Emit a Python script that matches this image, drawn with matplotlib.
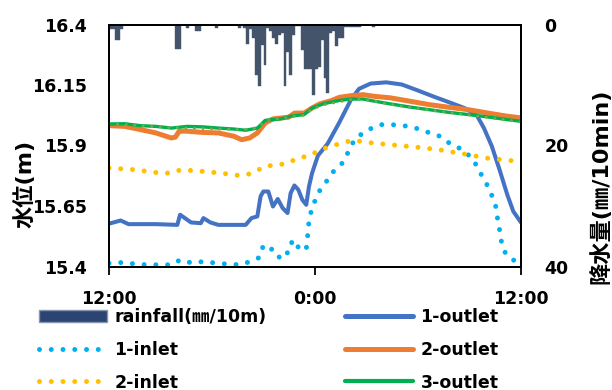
import matplotlib
matplotlib.use('Agg')
import matplotlib.pyplot as plt
from matplotlib.patches import Patch
from matplotlib.lines import Line2D

FONT = ['DejaVu Sans', 'Noto Sans CJK JP']
plt.rcParams['font.family'] = FONT
plt.rcParams['font.weight'] = 'bold'

# ---------------- data ----------------
time_ticks = [0, 12, 24]
time_labels = ['12:00', '0:00', '12:00']
level_ticks = [15.4, 15.65, 15.9, 16.15, 16.4]
level_labels = ['15.4', '15.65', '15.9', '16.15', '16.4']
rain_ticks = [0, 20, 40]

# rainfall: 10-minute slot index (from 12:00) and mm per 10 min
rain_slot = [0, 1, 2, 3, 4, 23, 24, 27, 30, 31, 37, 45, 47, 48,
             49, 50, 51, 52, 53, 54, 55, 56, 57, 58, 59, 60, 61, 62, 63, 64,
             65, 66, 67, 68, 69, 70, 71, 72, 73, 74, 75, 76, 77, 78, 79, 80,
             81, 82, 83, 84, 85, 86, 87, 92]
rain_mm = [0.8, 0.8, 2.6, 2.6, 0.8, 4.1, 4.1, 0.5, 1.0, 1.0, 0.5, 0.6, 0.5, 3.2,
           0.7, 2.2, 8.3, 10.2, 3.4, 6.7, 0.5, 1.0, 2.2, 3.2, 1.7, 1.4, 10.2, 4.5, 8.3, 1.7,
           0.3, 0.3, 4.2, 7.3, 7.3, 7.3, 11.6, 7.3, 7.0, 2.6, 8.8, 11.3, 1.4, 1.1, 3.6, 2.2,
           2.2, 0.4, 0.4, 0.4, 0.4, 0.4, 0.4, 0.4]

out1_t = [0, 0.68, 1.14, 2.73, 3.98, 4.14, 4.78, 5.35, 5.5, 5.91, 6.37, 7.96, 8.3,
          8.64, 8.83, 8.99, 9.28, 9.55, 9.83, 10.12, 10.4, 10.58, 10.8, 11.03, 11.26,
          11.49, 11.65, 11.83, 12.17, 12.74, 13.4, 14.1, 14.56, 15.24, 16.15, 17.06,
          17.97, 18.88, 19.8, 20.7, 21.4, 21.84, 22.3, 22.75, 23.2, 23.55, 24.0]
out1_v = [15.577, 15.590, 15.575, 15.575, 15.572, 15.614, 15.582, 15.579, 15.600,
          15.582, 15.572, 15.572, 15.600, 15.607, 15.690, 15.710, 15.710, 15.648,
          15.679, 15.641, 15.621, 15.703, 15.735, 15.717, 15.676, 15.655, 15.731,
          15.786, 15.858, 15.908, 15.993, 16.090, 16.134, 16.156, 16.161, 16.152,
          16.128, 16.103, 16.079, 16.055, 16.028, 15.972, 15.897, 15.800, 15.697,
          15.628, 15.582]

in1_t = [0, 0.18, 0.86, 1.55, 2.23, 2.91, 3.64, 4.16, 4.85, 5.53, 6.21, 6.89, 7.62,
         8.26, 8.76, 8.99, 9.39, 9.78, 10.35, 10.46, 10.81, 11.10, 11.49, 11.56,
         11.60, 11.72, 11.94, 12.24, 12.63, 13.08, 13.69, 13.99, 14.33, 15.01, 15.81,
         16.49, 17.17, 17.86, 18.61, 19.29, 19.90, 20.59, 21.20, 21.61, 21.95, 22.25,
         22.52, 22.63, 22.75, 22.86, 23.09, 23.66, 24.0]
in1_v = [15.414, 15.414, 15.417, 15.410, 15.407, 15.407, 15.407, 15.428, 15.414,
         15.421, 15.414, 15.410, 15.407, 15.421, 15.437, 15.487, 15.480, 15.439,
         15.439, 15.487, 15.510, 15.469, 15.472, 15.513, 15.561, 15.614, 15.662,
         15.710, 15.748, 15.793, 15.834, 15.883, 15.927, 15.963, 15.986, 15.986,
         15.982, 15.972, 15.954, 15.938, 15.906, 15.883, 15.844, 15.789, 15.748,
         15.703, 15.651, 15.600, 15.552, 15.503, 15.455, 15.421, 15.405]

in2_t = [0, 1.5, 3.0, 3.6, 4.2, 5.5, 6.5, 7.7, 8.4, 9.05, 10.35, 11.0, 11.7, 12.3,
         13.0, 13.6, 14.3, 15.0, 16.4, 17.8, 19.2, 20.0, 20.7, 22.0, 23.2, 24.0]
in2_v = [15.807, 15.800, 15.786, 15.786, 15.800, 15.793, 15.786, 15.775, 15.786,
         15.814, 15.825, 15.848, 15.858, 15.883, 15.897, 15.913, 15.921, 15.913,
         15.903, 15.894, 15.883, 15.873, 15.865, 15.848, 15.839, 15.834]

out2_t = [0, 0.91, 1.82, 2.73, 3.64, 3.87, 4.09, 4.55, 5.46, 6.37, 7.28, 7.73, 8.19,
          8.64, 9.10, 9.55, 10.46, 10.81, 11.37, 11.83, 12.28, 12.97, 13.42, 14.10,
          14.79, 15.47, 16.38, 17.52, 18.65, 19.79, 20.93, 22.07, 23.20, 24.0]
out2_v = [15.982, 15.979, 15.966, 15.952, 15.931, 15.935, 15.959, 15.959, 15.954,
          15.952, 15.938, 15.924, 15.931, 15.952, 15.993, 16.010, 16.017, 16.034,
          16.034, 16.055, 16.072, 16.086, 16.099, 16.106, 16.110, 16.103, 16.097,
          16.083, 16.069, 16.058, 16.048, 16.034, 16.021, 16.014]

out3_t = [0, 0.91, 1.82, 2.73, 3.64, 4.55, 5.46, 6.37, 7.28, 7.96, 8.64, 9.10, 10.01,
          10.58, 11.37, 11.83, 12.51, 13.42, 14.10, 14.79, 15.47, 16.38, 17.52, 18.65,
          19.79, 20.93, 22.07, 23.20, 24.0]
out3_v = [15.989, 15.990, 15.982, 15.979, 15.972, 15.979, 15.977, 15.972, 15.968,
          15.963, 15.972, 16.004, 16.010, 16.021, 16.028, 16.055, 16.073, 16.086,
          16.092, 16.092, 16.083, 16.072, 16.059, 16.048, 16.037, 16.028, 16.018,
          16.007, 16.000]

in3_t = [0, 3.6, 7.9, 8.6, 9.1, 10.6, 11.4, 11.8, 12.5, 14.1, 14.8, 16.4, 18.6,
         20.9, 24.0]
in3_v = [15.990, 15.974, 15.965, 15.973, 16.001, 16.019, 16.025, 16.050, 16.068,
         16.090, 16.092, 16.070, 16.047, 16.027, 15.997]

# ---------------- figure ----------------
fig = plt.figure(figsize=(6.12, 3.9), dpi=100)
ax = fig.add_axes([109 / 612, 1 - 266.5 / 390, 412 / 612, 242 / 390])
ax2 = ax.twinx()
ax.set_zorder(ax2.get_zorder() + 1)
ax.patch.set_visible(False)

rain_h = [s / 6 for s in rain_slot]
ax2.bar(rain_h, rain_mm, width=1 / 6, align='edge', color='#44546A',
        edgecolor='#44546A', linewidth=0.3)
ax2.set_ylim(40, 0)
ax2.set_yticks(rain_ticks)
ax2.set_yticklabels([str(v) for v in rain_ticks])

dot = dict(dash_capstyle='round')
ax.plot(out1_t, out1_v, color='#4472C4', lw=2.9, solid_capstyle='round', solid_joinstyle='round')
ax.plot(in1_t, in1_v, color='#00B0F0', lw=3.6, linestyle=(0, (0.001, 2.35)), **dot)
ax.plot(in2_t, in2_v, color='#FFC000', lw=3.6, linestyle=(0, (0.001, 2.35)), **dot)
ax.plot(out2_t, out2_v, color='#ED7D31', lw=3.6, solid_capstyle='round', solid_joinstyle='round')
ax.plot(out3_t, out3_v, color='#00B050', lw=2.4, solid_capstyle='round', solid_joinstyle='round')
ax.plot(in3_t, in3_v, color='#70AD47', lw=2.2, linestyle=(0, (0.001, 2.8)), **dot)

ax.set_xlim(0, 24)
ax.set_ylim(15.4, 16.4)
ax.set_xticks(time_ticks)
ax.set_xticklabels(time_labels)
ax.set_yticks(level_ticks)
ax.set_yticklabels(level_labels)

ax.tick_params(axis='y', length=0, pad=16, labelsize=12.5)
ax2.tick_params(axis='y', length=0, pad=17, labelsize=12.5)
ax.tick_params(axis='x', length=6, width=1.3, direction='out', pad=11, labelsize=12.5,
               colors='black')
for a in (ax, ax2):
    for sp in a.spines.values():
        sp.set_linewidth(1.4)
        sp.set_color('black')

fig.text(25 / 612, 1 - 184 / 390, '水位(m)', rotation=90, ha='center', va='center',
         fontsize=16, fontweight='bold', family=FONT)
fig.text(601 / 612, 1 - 186 / 390, '降水量(㎜/10min)', rotation=90, ha='center', va='center',
         fontsize=16, fontweight='bold', family=FONT)

# ---------------- legend ----------------
h_rain = Patch(facecolor='#2B4472', edgecolor='#8496B0', linewidth=1.0)
h_in1 = Line2D([], [], color='#00B0F0', lw=3.6, linestyle=(0, (0.001, 2.35)), **dot)
h_in2 = Line2D([], [], color='#FFC000', lw=3.6, linestyle=(0, (0.001, 2.35)), **dot)
h_out1 = Line2D([], [], color='#4472C4', lw=3.6, solid_capstyle='round')
h_out2 = Line2D([], [], color='#ED7D31', lw=3.6, solid_capstyle='round')
h_out3 = Line2D([], [], color='#00B050', lw=3.0, solid_capstyle='round')

common = dict(loc='upper left', frameon=False, borderpad=0, borderaxespad=0,
              handlelength=3.9, handletextpad=0.45, labelspacing=0.85,
              prop=dict(size=12.5, weight='bold', family=FONT))
leg1 = fig.legend([h_rain, h_in1, h_in2], ['rainfall(㎜/10m)', '1-inlet', '2-inlet'],
                  bbox_to_anchor=(39 / 612, 1 - 308 / 390), **common)
leg2 = fig.legend([h_out1, h_out2, h_out3], ['1-outlet', '2-outlet', '3-outlet'],
                  bbox_to_anchor=(345 / 612, 1 - 308 / 390), **common)

fig.savefig('out.png', dpi=100)
